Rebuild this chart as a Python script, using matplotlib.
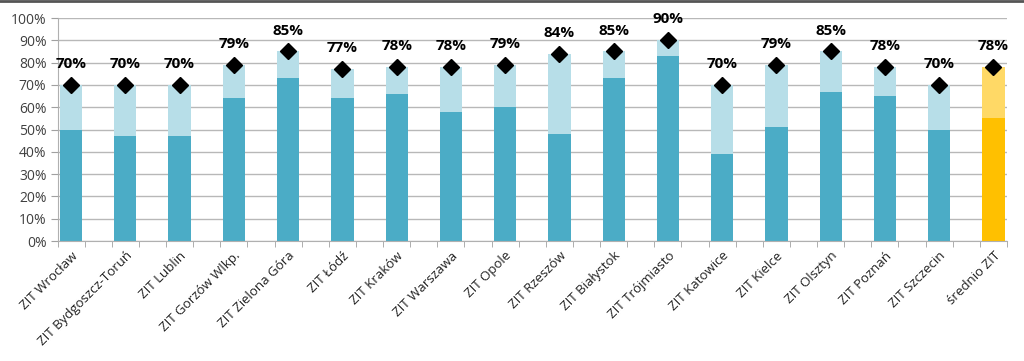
import numpy as np
import matplotlib.pyplot as plt
from matplotlib.lines import Line2D

plt.rcParams['font.family'] = ['Open Sans', 'DejaVu Sans']

categories = ['ZIT Wrocław', 'ZIT Bydgoszcz-Toruń', 'ZIT Lublin', 'ZIT Gorzów Wlkp.',
              'ZIT Zielona Góra', 'ZIT Łódź', 'ZIT Kraków', 'ZIT Warszawa', 'ZIT Opole',
              'ZIT Rzeszów', 'ZIT Białystok', 'ZIT Trójmiasto', 'ZIT Katowice',
              'ZIT Kielce', 'ZIT Olsztyn', 'ZIT Poznań', 'ZIT Szczecin', 'średnio ZIT']
# lower (dark) part of each bar, in %
base = [50, 47, 47, 64, 73, 64, 66, 58, 60, 48, 73, 83, 39, 51, 67, 65, 50, 55]
# total height of each bar (also the diamond marker), in %
total = [70, 70, 70, 79, 85, 77, 78, 78, 79, 84, 85, 90, 70, 79, 85, 78, 70, 78]

x = np.arange(len(categories))
base = np.array(base)
total = np.array(total)

dark = ['#4BACC6'] * (len(categories) - 1) + ['#FFC000']
light = ['#B7DEE8'] * (len(categories) - 1) + ['#FFD966']

fig = plt.figure(figsize=(10.24, 3.61), dpi=100)
ax = fig.add_axes([0.0562, 0.3324, 0.9272, 0.6176])

ax.bar(x, base, width=0.41, color=dark, zorder=2)
ax.bar(x, total - base, bottom=base, width=0.41, color=light, zorder=2)
ax.plot(x, total, linestyle='none', marker='D', color='black',
        markersize=8, zorder=3)

for xi, t in zip(x, total):
    ax.annotate('{}%'.format(t), (xi, t), xytext=(0, 10), textcoords='offset points',
                ha='center', va='bottom', fontsize=11, fontweight='bold',
                color='black', zorder=4)

ax.set_xlim(-0.25, len(categories) - 0.75)
ax.set_ylim(0, 100)
ax.set_yticks(range(0, 101, 10))
ax.set_yticklabels(['{}%'.format(v) for v in range(0, 101, 10)], fontsize=10,
                   color='#404040')
ax.yaxis.grid(True, color='#b8b8b8', linewidth=1, zorder=0)

ax.set_xticks(x)
ax.set_xticklabels(categories, rotation=45, ha='right', rotation_mode='anchor',
                   fontsize=9.5, color='#222222')
ax.tick_params(axis='x', length=0, pad=6)
ax.set_xticks(np.concatenate([x - 0.25, x + 0.25]), minor=True)
ax.tick_params(axis='x', which='minor', length=4, color='#a0a0a0')
ax.tick_params(axis='y', length=5, color='#a0a0a0', pad=3)

for side in ['top', 'right']:
    ax.spines[side].set_visible(False)
ax.spines['left'].set_color('#b0b0b0')
ax.spines['bottom'].set_color('#b0b0b0')

fig.add_artist(Line2D([0, 1], [0.997, 0.997], transform=fig.transFigure,
                      color='#555555', linewidth=2))

plt.savefig('out.png', dpi=100)
plt.close()
